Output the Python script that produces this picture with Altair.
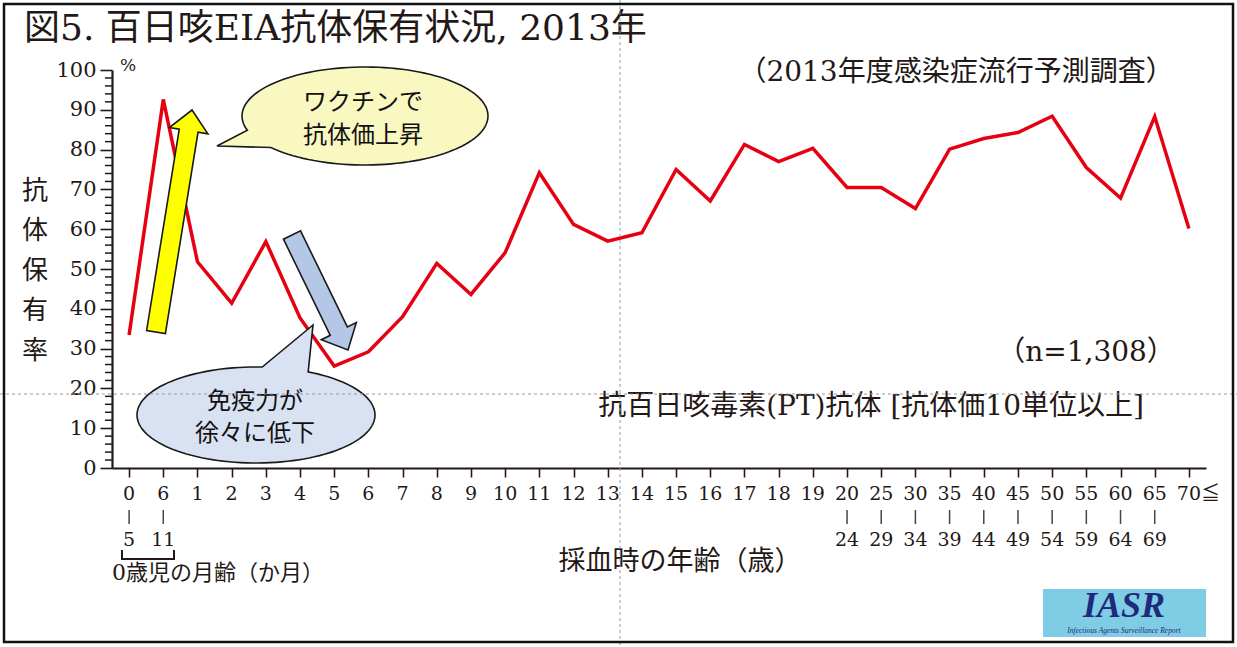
import altair as alt
import pandas as pd
import numpy as np

W, H = 1237, 647
LEFT, TOP = 112, 70
PW, PH = 1094, 398

# ---- data ----
cats = ["0-5m", "6-11m"] + [str(i) for i in range(1, 20)] + [
    "20-24", "25-29", "30-34", "35-39", "40-44", "45-49", "50-54",
    "55-59", "60-64", "65-69", "70+"]
top_labels = ["0", "6"] + [str(i) for i in range(1, 20)] + [
    "20", "25", "30", "35", "40", "45", "50", "55", "60", "65", "70"]
bottom_labels = ["5", "11"] + [""] * 19 + [
    "24", "29", "34", "39", "44", "49", "54", "59", "64", "69", ""]
values = [33.4, 92.6, 51.8, 41.4, 56.9, 37.7, 25.6, 29.2,
          38.0, 51.4, 43.6, 54.1, 74.2, 61.2, 57.0, 59.1,
          75.0, 67.1, 81.3, 77.0, 80.3,
          70.5, 70.5, 65.2, 80.1, 82.8, 84.3, 88.4, 75.5, 67.8, 88.3, 60.2]
major_ticks = list(range(0, 101, 10))
minor_ticks = [v for v in range(0, 101, 2) if v % 10 != 0]

df = pd.DataFrame({"cat": cats, "top": top_labels, "bot": bottom_labels, "v": values})
df_bot = df[df["bot"] != ""]
df_minor = pd.DataFrame({"v": minor_ticks})

TXT = "#231815"
SERIF = "DejaVu Serif, Noto Sans CJK JP"
JP = "Noto Sans CJK JP"

xscale = alt.Scale(type="point", domain=cats, padding=0.5)
yscale = alt.Scale(domain=[0, 100], nice=False, zero=True)
X = alt.X("cat:N", scale=xscale,
          axis=alt.Axis(labels=False, title=None, grid=False, tickSize=9, tickWidth=1.6,
                        tickColor=TXT, domainColor=TXT, domainWidth=2))
YAX = alt.Axis(values=major_ticks, title=None, grid=False, labelOverlap=False,
               labelFont="DejaVu Serif", labelFontSize=21,
               labelColor=TXT, labelPadding=4, tickSize=12,
               tickWidth=1.6, tickColor=TXT, domainColor=TXT, domainWidth=2.2)


def px(x):
    return x - LEFT


def py(y):
    return y - TOP


def one():
    return pd.DataFrame({"a": [0]})


def text_layer(txt, x, y, size, align="center", font=SERIF, color=TXT, weight="normal",
               style="normal", baseline="middle", **kw):
    return alt.Chart(pd.DataFrame({"t": [txt]})).mark_text(
        align=align, baseline=baseline, font=font, fontSize=size, color=color,
        fontWeight=weight, fontStyle=style, **kw
    ).encode(x=alt.value(px(x)), y=alt.value(py(y)), text="t:N")


def seg(x1, y1, x2, y2, color=TXT, width=2, dash=None):
    mk = dict(color=color, strokeWidth=width)
    if dash:
        mk["strokeDash"] = dash
    return alt.Chart(one()).mark_rule(**mk).encode(
        x=alt.value(px(x1)), y=alt.value(py(y1)), x2=alt.value(px(x2)), y2=alt.value(py(y2)))


def box(x1, y1, x2, y2, **mk):
    return alt.Chart(one()).mark_rect(**mk).encode(
        x=alt.value(px(x1)), y=alt.value(py(y1)), x2=alt.value(px(x2)), y2=alt.value(py(y2)))


def shape_layer(pts, anchor, fill, stroke="#1a1a1a", sw=1.6):
    ax, ay = anchor
    d = " ".join(("M" if i == 0 else "L") + f"{(x - ax) / 100:.4f},{(y - ay) / 100:.4f}"
                 for i, (x, y) in enumerate(pts)) + " Z"
    return alt.Chart(one()).mark_point(
        shape=d, size=40000, filled=True, fill=fill, stroke=stroke, strokeWidth=sw,
        opacity=1, fillOpacity=1, strokeOpacity=1
    ).encode(x=alt.value(px(ax)), y=alt.value(py(ay)))


def bubble_pts(cx, cy, rx, ry, a1, a2, tip):
    th = np.radians(np.linspace(a1, a2, 120))
    return [(cx + rx * np.cos(t), cy + ry * np.sin(t)) for t in th] + [tip]


def arrow_pts(T, P, hw=9.5, hhw=19.5, hl=21):
    T, P = np.array(T, float), np.array(P, float)
    d = (P - T) / np.linalg.norm(P - T)
    n = np.array([-d[1], d[0]])
    B = P - d * hl
    return [tuple(p) for p in [T + n * hw, B + n * hw, B + n * hhw, P, B - n * hhw, B - n * hw, T - n * hw]]


# ---- main line with axes ----
line = alt.Chart(df).mark_line(color="#E60012", strokeWidth=3.5).encode(
    x=X, y=alt.Y("v:Q", scale=yscale, axis=YAX))

minor = alt.Chart(df_minor).mark_rule(color=TXT, strokeWidth=1.5).encode(
    y=alt.Y("v:Q", scale=yscale, axis=YAX), x=alt.value(-7), x2=alt.value(0))

# x labels rows
top_txt = alt.Chart(df).mark_text(font=SERIF, fontSize=19, color=TXT, baseline="middle").encode(
    x=X, y=alt.value(py(494)), text="top:N")
le_txt = alt.Chart(df[df["cat"] == "70+"]).mark_text(
    font=SERIF, fontSize=19, color=TXT, baseline="middle", align="left", dx=12).encode(
    x=X, y=alt.value(py(494)), text=alt.value("≦"))
bars = alt.Chart(df_bot).mark_rule(color="#444", strokeWidth=1.5).encode(
    x=X, y=alt.value(py(510)), y2=alt.value(py(524)))
bot_txt = alt.Chart(df_bot).mark_text(font=SERIF, fontSize=19, color=TXT, baseline="middle").encode(
    x=X, y=alt.value(py(540)), text="bot:N")

layers = [line, minor, top_txt, le_txt, bars, bot_txt]

# bracket under 5 - 11
layers += [seg(122, 550, 122, 560), seg(174, 550, 174, 560), seg(121, 559, 175, 559)]

# arrows and balloons
layers.append(shape_layer(arrow_pts((156, 332), (192, 110)), (174, 221), "#FFFF00"))
layers.append(shape_layer(arrow_pts((292, 235), (348, 350)), (320, 292), "#B4C7E7"))
layers.append(shape_layer(bubble_pts(365, 116, 123, 49, 163, 500, (217, 146)), (365, 116), "#F8F8C0"))
layers.append(shape_layer(bubble_pts(256, 415, 119, 48, -64, 273, (313, 325)), (256, 415), "#D9E2F3"))

layers += [
    text_layer("ワクチンで", 363, 103, 24, font=JP, color="#111"),
    text_layer("抗体価上昇", 363, 136, 24, font=JP, color="#111"),
    text_layer("免疫力が", 255, 402, 24, font=JP, color="#111"),
    text_layer("徐々に低下", 255, 434, 24, font=JP, color="#111"),
]

# titles and notes
layers += [
    text_layer("図5. 百日咳EIA抗体保有状況, 2013年", 24, 29, 36, align="left"),
    text_layer("（2013年度感染症流行予測調査）", 956, 73, 28),
    text_layer("（n=1,308）", 1086, 353, 28),
    text_layer("抗百日咳毒素(PT)抗体 [抗体価10単位以上]", 871, 407, 28),
    text_layer("採血時の年齢（歳）", 680, 562, 27),
    text_layer("0歳児の月齢（か月）", 112, 573, 22, align="left"),
    text_layer("%", 120, 66, 17, align="left"),
    text_layer("抗\n体\n保\n有\n率", 35, 191, 26, font=JP, lineBreak="\n", lineHeight=40),
]

# IASR logo
layers += [
    box(1043, 589, 1206, 637, fill="#7FCCE5"),
    text_layer("IASR", 1124, 606, 36, font="Liberation Serif", color="#1F2A7A",
               style="italic", weight="bold"),
    text_layer("Infectious Agents Surveillance Report", 1124, 631, 7.5, font="Liberation Serif",
               color="#1F2A7A", style="italic"),
]

# scan guides and frame
layers += [
    seg(620, 0, 620, 647, color="#999", width=1, dash=[3, 3]),
    seg(0, 394, 1237, 394, color="#999", width=1, dash=[3, 3]),
    box(4, 4, 1233, 642, fill=None, fillOpacity=0, stroke="#111", strokeWidth=2.5),
]

chart = alt.layer(*layers).properties(
    width=PW, height=PH,
    padding={"left": LEFT, "top": TOP, "right": W - LEFT - PW, "bottom": H - TOP - PH},
    autosize=alt.AutoSizeParams(type="none"),
    background="white",
).configure_view(stroke=None)

chart.save("out.html", embed_options={"renderer": "svg", "actions": False})
